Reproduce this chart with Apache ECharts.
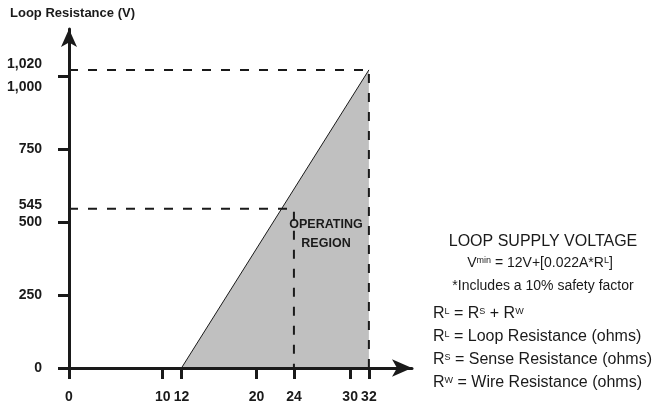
<!DOCTYPE html>
<html>
<head>
<meta charset="utf-8">
<script src="https://cdn.jsdelivr.net/npm/echarts@6/dist/echarts.min.js"></script>
<style>
  html, body { margin: 0; padding: 0; background: #fff; }
  #chart { width: 653px; height: 404px; }
</style>
</head>
<body>
<div id="chart"></div>
<script>
// 数据
const xTicks = [0, 10, 12, 20, 24, 30, 32]
const yTicks = [0, 250, 500, 750, 1000]
const yLabels = [0, 250, 500, 545, 750, 1000, 1020]
// operating region edge: from (12V, 0) to (32V, 1020)
const regionEdge = [[12, 0], [32, 1020]]
// dashed guides
const guideMax = [[0, 1020], [32, 1020], [32, 0]]
const guide24 = [[0, 545], [24, 545], [24, 0]]

const FONT = "'Liberation Sans Narrow', 'Arial Narrow', 'Liberation Sans', Arial, sans-serif"
const INK = '#1a1a1a'

const chart = echarts.init(document.getElementById('chart'))

const fmt = (v) => String(v).replace(/\B(?=(\d{3})+(?!\d))/g, ',')

const dashed = (data) => ({
  type: 'line',
  data,
  symbol: 'none',
  silent: true,
  lineStyle: { color: INK, width: 2, type: [9, 10] },
  z: 3,
})

// small raised letters (R^L, V^min)
const sup = (size) => ({
  fontSize: size,
  fontFamily: FONT,
  color: INK,
  verticalAlign: 'middle',
  padding: [0, 0, 5, 0],
})

const labelFont = { color: INK, fontFamily: FONT, fontWeight: 'bold', fontSize: 14 }

// shift some y labels so they don't collide
const shifted = {
  1020: { pad: [0, 0, 12, 0] },
  1000: { pad: [22, 0, 0, 0] },
  545: { pad: [0, 0, 8, 0] },
}

chart.setOption({
  animation: false,
  grid: { left: 69, right: 241, top: 29, bottom: 36 },
  xAxis: {
    type: 'value',
    min: 0,
    max: 36.6,
    z: 10,
    splitLine: { show: false },
    axisLine: {
      onZero: false,
      symbol: ['none', 'arrow'],
      symbolSize: [13, 20],
      lineStyle: { color: INK, width: 3 },
    },
    axisTick: {
      customValues: xTicks,
      length: 11,
      lineStyle: { color: INK, width: 3 },
    },
    axisLabel: {
      customValues: xTicks,
      margin: 22,
      ...labelFont,
    },
  },
  yAxis: {
    type: 'value',
    min: 0,
    max: 1160,
    z: 10,
    splitLine: { show: false },
    axisLine: {
      onZero: false,
      symbol: ['none', 'arrow'],
      symbolSize: [12, 18],
      lineStyle: { color: INK, width: 3 },
    },
    axisTick: {
      customValues: yTicks,
      length: 11,
      lineStyle: { color: INK, width: 3 },
    },
    axisLabel: {
      customValues: yLabels,
      margin: 27,
      ...labelFont,
      formatter: (v) => (shifted[v] ? `{s${v}|${fmt(v)}}` : fmt(v)),
      rich: Object.fromEntries(
        Object.entries(shifted).map(([k, o]) => [`s${k}`, { padding: o.pad, ...labelFont }])
      ),
    },
  },
  series: [
    {
      type: 'line',
      data: regionEdge,
      symbol: 'none',
      silent: true,
      lineStyle: { color: INK, width: 1 },
      areaStyle: { color: '#c0c0c0', opacity: 1 },
      z: 2,
    },
    dashed(guideMax),
    dashed(guide24),
  ],
  graphic: [
    {
      type: 'text',
      left: 10,
      top: 7,
      style: { text: 'Loop Resistance (V)', font: `bold 13px ${FONT}`, fill: INK },
    },
    {
      type: 'text',
      x: 326,
      y: 234,
      style: {
        text: 'OPERATING\nREGION',
        font: `bold 12.5px ${FONT}`,
        fill: INK,
        align: 'center',
        verticalAlign: 'middle',
        lineHeight: 19,
      },
      z: 20,
    },
    {
      type: 'text',
      x: 543,
      y: 242,
      style: { text: 'LOOP SUPPLY VOLTAGE', font: `16px ${FONT}`, fill: INK, align: 'center', verticalAlign: 'middle' },
    },
    {
      type: 'text',
      x: 540,
      y: 263,
      style: {
        text: 'V{s|min} = 12V+[0.022A*R{s|L}]',
        font: `14px ${FONT}`,
        fill: INK,
        align: 'center',
        verticalAlign: 'middle',
        rich: { s: sup(9) },
      },
    },
    {
      type: 'text',
      x: 543,
      y: 286,
      style: { text: '*Includes a 10% safety factor', font: `14px ${FONT}`, fill: INK, align: 'center', verticalAlign: 'middle' },
    },
    {
      type: 'text',
      x: 433,
      y: 302.5,
      style: {
        text: [
          'R{s|L} = R{s|S} + R{s|W}',
          'R{s|L} = Loop Resistance (ohms)',
          'R{s|S} = Sense Resistance (ohms)',
          'R{s|W} = Wire Resistance (ohms)',
        ].join('\n'),
        font: `16px ${FONT}`,
        fill: INK,
        align: 'left',
        verticalAlign: 'top',
        lineHeight: 23,
        rich: { s: sup(9) },
      },
    },
  ],
})
</script>
</body>
</html>
